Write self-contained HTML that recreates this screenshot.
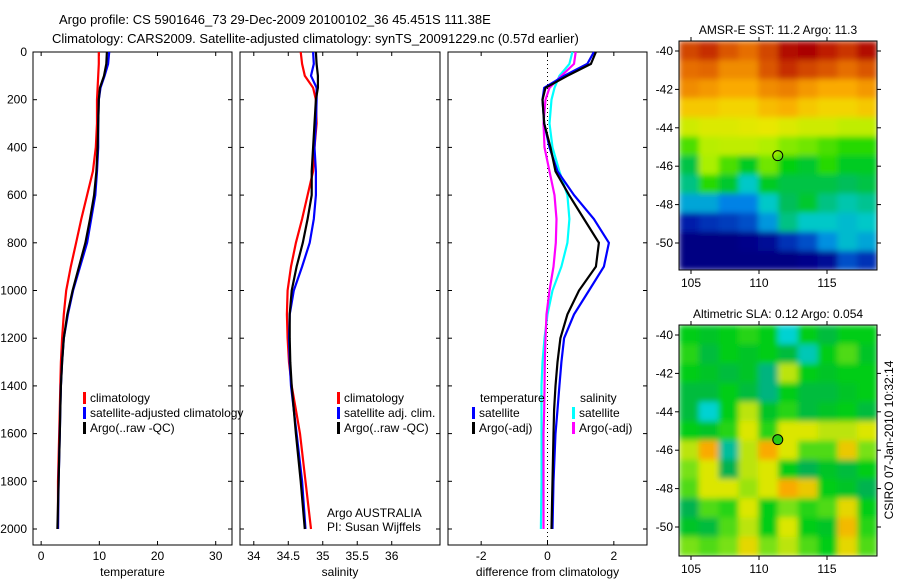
<!DOCTYPE html>
<html><head><meta charset="utf-8"><style>
body{margin:0;background:#fff}
svg{display:block;font-family:"Liberation Sans",sans-serif}
</style></head><body>
<svg id="fig" width="900" height="580" xmlns="http://www.w3.org/2000/svg">
<defs>
<filter id="bl" x="0" y="0" width="1" height="1"><feGaussianBlur stdDeviation="3" edgeMode="duplicate"/></filter>
<clipPath id="c1"><rect x="679" y="41" width="198" height="229"/></clipPath>
<clipPath id="c2"><rect x="679" y="325" width="198" height="231"/></clipPath>
</defs>
<rect width="900" height="580" fill="#fff"/>
<text x="59" y="24" font-size="13">Argo profile: CS 5901646_73 29-Dec-2009 20100102_36 45.451S 111.38E</text>
<text x="52" y="43" font-size="13">Climatology: CARS2009. Satellite-adjusted climatology: synTS_20091229.nc (0.57d earlier)</text>
<g id="g"></g>
</svg>
<script>
const depths=[0,50,100,150,200,300,400,500,600,700,800,900,1000,1100,1200,1300,1400,1500,1600,1800,2000];
const tClim=[9.9,9.9,9.8,9.7,9.6,9.6,9.4,8.9,7.9,6.9,6.0,5.1,4.3,3.9,3.6,3.4,3.3,3.2,3.1,2.9,2.9];
const tSat=[11.7,11.5,10.9,10.2,9.9,9.8,9.8,9.6,9.3,8.6,7.9,6.7,5.5,4.6,3.9,3.6,3.4,3.3,3.2,3.0,2.9];
const tArgo=[11.3,11.2,10.8,10.1,9.9,9.8,9.7,9.5,9.1,8.4,7.6,6.5,5.4,4.5,3.9,3.6,3.4,3.3,3.2,3.0,2.8];
const sClim=[34.68,34.70,34.74,34.86,34.90,34.91,34.88,34.86,34.78,34.70,34.61,34.54,34.49,34.48,34.49,34.51,34.55,34.61,34.67,34.75,34.83];
const sSat=[34.86,34.87,34.83,34.91,34.91,34.90,34.88,34.90,34.90,34.87,34.81,34.70,34.58,34.52,34.51,34.52,34.54,34.58,34.62,34.70,34.75];
const sArgo=[34.90,34.91,34.93,34.93,34.90,34.88,34.86,34.84,34.84,34.78,34.71,34.62,34.55,34.52,34.52,34.53,34.55,34.58,34.61,34.68,34.74];
const dTSat=[1.4,1.2,0.5,-0.1,-0.15,-0.1,0.06,0.3,0.8,1.4,1.85,1.7,1.25,0.8,0.5,0.42,0.36,0.3,0.24,0.18,0.15];
const dTArgo=[1.46,1.31,0.6,-0.06,-0.15,-0.1,0.09,0.24,0.65,1.1,1.55,1.46,0.95,0.6,0.39,0.3,0.24,0.2,0.18,0.15,0.12];
const dSSat=[0.75,0.66,0.36,0.21,0.12,0.06,0.15,0.36,0.6,0.66,0.6,0.42,0.15,0.0,-0.09,-0.15,-0.18,-0.18,-0.18,-0.18,-0.2];
const dSArgo=[0.85,0.8,0.42,0.06,-0.06,-0.12,-0.09,0.06,0.21,0.27,0.25,0.18,0.06,-0.03,-0.06,-0.08,-0.09,-0.1,-0.12,-0.12,-0.12];
const sst=[
[15,15.3,14.8,14.5,15,15.8,16,15.5,15.2,15.8],
[14.5,14.6,14,14,14.8,15.3,15,14.8,14.5,14.8],
[14,13.8,13.5,13.5,14,14.2,13.8,13.5,13.5,13.8],
[13,13,12.8,12.8,13.2,13.4,13,12.8,12.8,13],
[12,12.2,12.2,12.3,12.4,12.2,12,12,11.8,11.8],
[11,11.7,11.8,11.8,11.6,11.3,11.2,11,10.8,10.8],
[10,11.5,11,10.3,11.2,10.5,10.2,10.8,10.3,10.3],
[9.5,10.8,10.2,9,10.3,10,10,10,9.8,10],
[8.5,8.5,8,8,9,9.8,10.2,9.5,9.2,9.4],
[7,7.2,7.3,7.5,8.3,9.5,9,9,8.8,9],
[6,6,6,6.2,6.5,7.2,7.5,8.2,8.8,8.5],
[6,6,6,6,6,6,6.2,6.5,7.5,7.2]];
const sla=[
[0,-0.05,0,0.05,0,-0.4,0,-0.1,0,0],
[0.05,-0.1,0,-0.05,0,-0.1,-0.35,0,0.1,-0.05],
[0,-0.05,-0.1,-0.05,-0.25,0.25,0,-0.05,0,0],
[-0.1,-0.1,0,-0.1,-0.25,0,-0.1,-0.1,-0.05,0],
[-0.1,-0.4,0,0.25,-0.05,0.05,-0.1,-0.05,0,-0.1],
[0,-0.05,0.05,0.3,0.05,0.3,0.3,0.25,0.25,0.3],
[0.25,0.5,-0.3,0.25,0.5,0.3,0.1,0.1,0.4,0.15],
[0.15,0.3,-0.15,0.25,0.3,0,-0.15,-0.05,-0.1,0],
[0.1,0.3,0.3,0.2,0.3,0.5,0.4,0,-0.05,-0.15],
[-0.15,0.1,0.05,0.3,0,0.15,0.05,0.1,0.35,0],
[-0.05,-0.1,0.1,0.25,0,0.3,0,-0.05,0.45,0.05],
[0.15,0.1,0.15,0.35,0.15,0.25,0.1,0,0.35,0.1]];

const NS="http://www.w3.org/2000/svg",G=document.getElementById('g');
function mk(t,a,p){const e=document.createElementNS(NS,t);for(const k in a)e.setAttribute(k,a[k]);(p||G).appendChild(e);return e;}
const Y0=52,Y1=545,DMAX=(Y1-Y0)/0.2385;
const yD=d=>Y0+d/DMAX*(Y1-Y0);
function panel(name,x0,x1,vmin,vmax,xt,xtl,xlabel,leftLabels){
  const xs=v=>x0+(v-vmin)/(vmax-vmin)*(x1-x0);
  const r=mk('rect',{x:x0,y:Y0,width:x1-x0,height:Y1-Y0,fill:'none',stroke:'#000','stroke-width':1});
  
  for(let d=0;d<=2000;d+=200){const y=yD(d);
    mk('line',{x1:x0,x2:x0+4,y1:y,y2:y,stroke:'#000'});mk('line',{x1:x1-4,x2:x1,y1:y,y2:y,stroke:'#000'});
    if(leftLabels){const t=mk('text',{x:x0-6,y:y+4,'font-size':12,'text-anchor':'end'});t.textContent=d;
      }}
  xt.forEach((v,i)=>{const x=xs(v);mk('line',{x1:x,x2:x,y1:Y1,y2:Y1-4,stroke:'#000'});mk('line',{x1:x,x2:x,y1:Y0,y2:Y0+4,stroke:'#000'});
    const t=mk('text',{x:x,y:Y1+15,'font-size':12,'text-anchor':'middle'});t.textContent=xtl[i];
    });
  const t=mk('text',{x:(x0+x1)/2,y:Y1+31,'font-size':12,'text-anchor':'middle'});t.textContent=xlabel;
  
  return xs;
}
function line(xs,vals,col,name){
  const p=mk('polyline',{points:vals.map((v,i)=>xs(v).toFixed(1)+','+yD(depths[i]).toFixed(1)).join(' '),fill:'none',stroke:col,'stroke-width':2.2});
  
}
function legend(x,y,items){items.forEach((it,i)=>{
  mk('rect',{x:x,y:y+i*15-10,width:3,height:12,fill:it[0]});
  const t=mk('text',{x:x+7,y:y+i*15,'font-size':12});t.textContent=it[1];
  });}

const xT=panel('temperature-panel',33,232,-1.4,32.8,[0,10,20,30],['0','10','20','30'],'temperature',true);
line(xT,tClim,'#f00','temp-climatology-line');line(xT,tSat,'#00f','temp-satellite-line');line(xT,tArgo,'#000','temp-argo-line');
legend(83,402,[['#f00','climatology'],['#00f','satellite-adjusted climatology'],['#000','Argo(..raw -QC)']]);

const xS=panel('salinity-panel',240,440,33.8,36.7,[34,34.5,35,35.5,36],['34','34.5','35','35.5','36'],'salinity',false);
line(xS,sClim,'#f00','sal-climatology-line');line(xS,sSat,'#00f','sal-satellite-line');line(xS,sArgo,'#000','sal-argo-line');
legend(337,402,[['#f00','climatology'],['#00f','satellite adj. clim.'],['#000','Argo(..raw -QC)']]);
let tt=mk('text',{x:327,y:517,'font-size':12});tt.textContent='Argo AUSTRALIA';
let tt2=mk('text',{x:327,y:531,'font-size':12});tt2.textContent='PI: Susan Wijffels';

const xD=panel('difference-panel',448,647,-3,3,[-2,0,2],['-2','0','2'],'difference from climatology',false);
mk('line',{x1:xD(0),x2:xD(0),y1:Y0,y2:Y1,stroke:'#000','stroke-dasharray':'1,3'});
line(xD,dSSat,'#0ff','diff-sal-satellite-line');line(xD,dSArgo,'#f0f','diff-sal-argo-line');
line(xD,dTSat,'#00f','diff-temp-satellite-line');line(xD,dTArgo,'#000','diff-temp-argo-line');
let l1=mk('text',{x:480,y:402,'font-size':12});l1.textContent='temperature';
let l2=mk('text',{x:580,y:402,'font-size':12});l2.textContent='salinity';
legend(472,417,[['#00f','satellite'],['#000','Argo(-adj)']]);
legend(572,417,[['#0ff','satellite'],['#f0f','Argo(-adj)']]);

function cmap(stops,v){
  if(v<=stops[0][0])return stops[0][1];
  for(let i=1;i<stops.length;i++){if(v<=stops[i][0]){const a=stops[i-1],b=stops[i],t=(v-a[0])/(b[0]-a[0]);
    return a[1].map((c,k)=>Math.round(c+(b[1][k]-c)*t));}}
  return stops[stops.length-1][1];
}
const sstStops=[[6,[0,0,130]],[7,[0,30,170]],[8,[0,130,230]],[9,[0,200,200]],[9.8,[0,190,90]],[10.6,[0,210,0]],[11.5,[170,240,0]],[12.5,[240,230,0]],[13.5,[250,170,0]],[14.5,[230,110,0]],[15.5,[190,30,0]],[16,[170,0,0]]];
const slaStops=[[-0.4,[0,210,210]],[-0.2,[0,170,100]],[0,[0,205,20]],[0.15,[120,225,20]],[0.3,[220,230,0]],[0.5,[250,170,0]]];
function map(name,x0,x1,y0,y1,grid,stops,title,lat0,latPx,argoLon,argoLat,circFill,clip){
  const rows=grid.length,cols=grid[0].length,cw=(x1-x0)/cols,ch=(y1-y0)/rows;
  const cg=mk('g',{'clip-path':'url(#'+clip+')'});
  const g=mk('g',{filter:'url(#bl)'},cg);
  grid.forEach((row,i)=>row.forEach((v,j)=>{
    const c=mk('rect',{x:x0+j*cw,y:y0+i*ch,width:cw+0.6,height:ch+0.6,fill:'rgb('+cmap(stops,v).join(',')+')'},g);
    }));
  const f=mk('rect',{x:x0,y:y0,width:x1-x0,height:y1-y0,fill:'none',stroke:'#000'});
  
  const lon=v=>691+(v-105)*13.6, lat=v=>lat0+(-40-v)*latPx;
  [105,110,115].forEach(v=>{mk('line',{x1:lon(v),x2:lon(v),y1:y0,y2:y0-4,stroke:'#000'});mk('line',{x1:lon(v),x2:lon(v),y1:y1,y2:y1+4,stroke:'#000'});
    const t=mk('text',{x:lon(v),y:y1+17,'font-size':12,'text-anchor':'middle'});t.textContent=v;
    });
  [-40,-42,-44,-46,-48,-50].forEach(v=>{const y=lat(v);mk('line',{x1:x0,x2:x0-4,y1:y,y2:y,stroke:'#000'});mk('line',{x1:x1,x2:x1+4,y1:y,y2:y,stroke:'#000'});
    const t=mk('text',{x:x0-6,y:y+4,'font-size':12,'text-anchor':'end'});t.textContent=v;
    });
  const t=mk('text',{x:(x0+x1)/2,y:y0-7,'font-size':12,'text-anchor':'middle'});t.textContent=title;
  
  const c=mk('circle',{cx:lon(argoLon),cy:lat(argoLat),r:5,fill:circFill,stroke:'#000'});
  
}
map('sst-map',679,877,41,270,sst,sstStops,'AMSR-E SST: 11.2 Argo: 11.3',51,19.2,111.38,-45.451,'none','c1');
map('sla-map',679,877,325,556,sla,slaStops,'Altimetric SLA: 0.12 Argo: 0.054',335,19.2,111.38,-45.451,'rgb(40,200,20)','c2');
const cs=mk('text',{x:0,y:0,'font-size':12,'text-anchor':'middle',transform:'translate(893,440) rotate(-90)'});
cs.textContent='CSIRO 07-Jan-2010 10:32:14';

</script>
</body></html>
